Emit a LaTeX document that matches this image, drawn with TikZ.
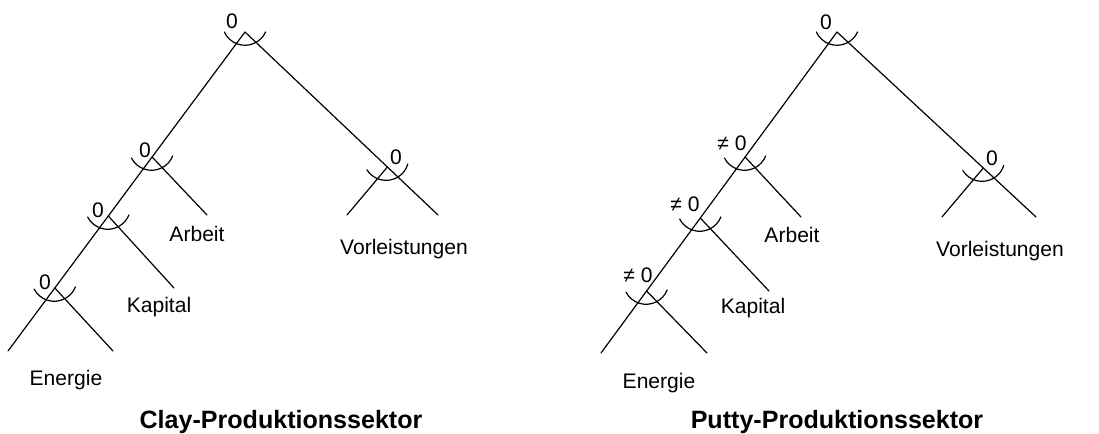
\documentclass[tikz,border=0pt]{standalone}
\usepackage{fontspec}
\setmainfont{Liberation Sans}
\usetikzlibrary{calc}
\begin{document}
\begin{tikzpicture}[x=0.75pt,y=0.75pt,
 branch/.style={line width=0.9pt, line cap=round},
 lbl/.style={inner sep=0pt, anchor=base, font=\fontsize{15.8}{18}\selectfont},
 ttl/.style={inner sep=0pt, anchor=base, font=\fontsize{18.8}{22}\selectfont\bfseries}]
\useasboundingbox (0,0) rectangle (1099,-434);
\newcommand\jarc[2]{\draw[branch] ($(#1)+({90+#2}:9.4)+({204.4+#2}:22.7)$) arc[start angle={204.4+#2}, end angle={335.6+#2}, radius=17pt];}
% ---------- Clay tree ----------
\coordinate (Lr) at (245,-32);
\coordinate (Ln2) at (152.1,-157);
\coordinate (Ln3) at (108.3,-216);
\coordinate (Ln4) at (54.8,-288);
\coordinate (Le) at (8,-351);
\coordinate (Lv) at (387.4,-167);
\coordinate (Lve) at (438,-215);
\coordinate (Lvl) at (347,-215);
\coordinate (Ln2r) at (207,-215);
\coordinate (Ln3r) at (174,-288);
\coordinate (Ln4r) at (113,-351);
\draw[branch] (Lr) -- (Ln2) -- (Ln3) -- (Ln4) -- (Le);
\draw[branch] (Lr) -- (Lv) -- (Lve);
\draw[branch] (Lv) -- (Lvl);
\draw[branch] (Ln2) -- (Ln2r);
\draw[branch] (Ln3) -- (Ln3r);
\draw[branch] (Ln4) -- (Ln4r);
\jarc{Lr}{0}
\jarc{Ln2}{3}
\jarc{Ln3}{3}
\jarc{Ln4}{3}
\jarc{Lv}{8}
\node[lbl] (Lr0) at (232,-29) {0};
\node[lbl] (Ln20) at (145,-158) {0};
\node[lbl] (Ln30) at (98,-218) {0};
\node[lbl] (Ln40) at (45,-290) {0};
\node[lbl] (Lv0) at (396,-165) {0};
\node[lbl] (LA) at (197,-242) {Arbeit};
\node[lbl] (LK) at (159,-313) {Kapital};
\node[lbl] (LE) at (66,-386) {Energie};
\node[lbl] (LV) at (404,-255) {Vorleistungen};
\node[ttl] (LT) at (281,-428) {Clay-Produktionssektor};
% ---------- Putty tree ----------
\coordinate (Rr) at (837,-32);
\coordinate (Rn2) at (745.1,-157);
\coordinate (Rn3) at (700.3,-218);
\coordinate (Rn4) at (646.6,-291);
\coordinate (Re) at (601,-353);
\coordinate (Rv) at (983.3,-168);
\coordinate (Rve) at (1036,-217);
\coordinate (Rvl) at (942,-217);
\coordinate (Rn2r) at (801,-217);
\coordinate (Rn3r) at (769,-291);
\coordinate (Rn4r) at (707,-353);
\draw[branch] (Rr) -- (Rn2) -- (Rn3) -- (Rn4) -- (Re);
\draw[branch] (Rr) -- (Rv) -- (Rve);
\draw[branch] (Rv) -- (Rvl);
\draw[branch] (Rn2) -- (Rn2r);
\draw[branch] (Rn3) -- (Rn3r);
\draw[branch] (Rn4) -- (Rn4r);
\jarc{Rr}{0}
\jarc{Rn2}{3}
\jarc{Rn3}{3}
\jarc{Rn4}{3}
\jarc{Rv}{7}
\node[lbl] (Rr0) at (826,-30) {0};
\node[lbl] (Rn20) at (732,-151) {≠ 0};
\node[lbl] (Rn30) at (685,-212) {≠ 0};
\node[lbl] (Rn40) at (638,-283) {≠ 0};
\node[lbl] (Rv0) at (992,-166) {0};
\node[lbl] (RA) at (792,-243) {Arbeit};
\node[lbl] (RK) at (753,-314) {Kapital};
\node[lbl] (RE) at (659,-388) {Energie};
\node[lbl] (RV) at (1000,-257) {Vorleistungen};
\node[ttl] (RT) at (837,-428) {Putty-Produktionssektor};
\end{tikzpicture}
\end{document}
